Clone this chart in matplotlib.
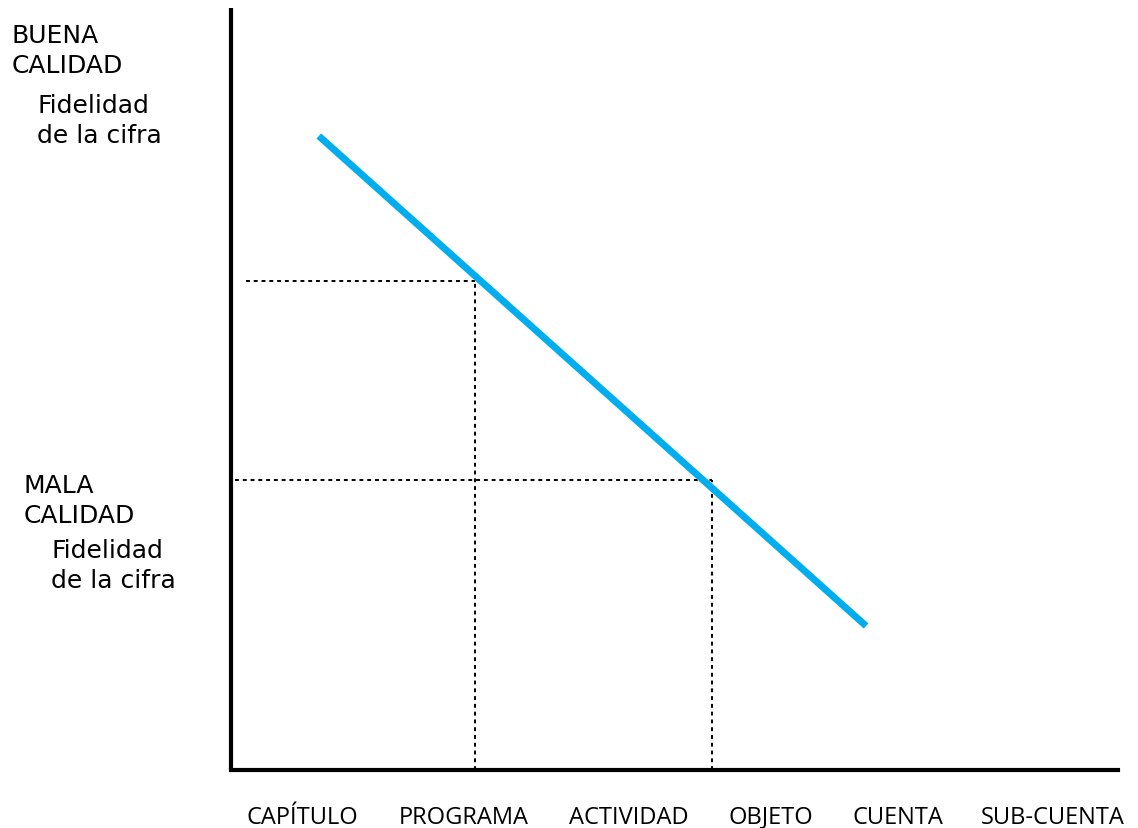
import numpy as np
import matplotlib.pyplot as plt

# positions on a 0-100 scale (x = nivel de desagregación, y = calidad)
categorias = ['CAPÍTULO', 'PROGRAMA', 'ACTIVIDAD', 'OBJETO', 'CUENTA', 'SUB-CUENTA']
cat_x = [8.1, 26.2, 44.8, 60.9, 75.2, 92.6]
linea_x = [9.9, 71.6]
linea_y = [83.2, 18.9]
# dotted reference lines: (x start, x end, y)
ref_x0 = [1.7, 0.45]
ref_x1 = [27.5, 54.2]
ref_y = [64.2, 38.1]

fig = plt.figure(figsize=(11.38, 8.29), dpi=100)
ax = fig.add_axes([231 / 1138, 58 / 829, 887 / 1138, 762 / 829])
ax.set_xlim(0, 100)
ax.set_ylim(0, 100)

ax.plot(linea_x, linea_y, color='#00aeef', lw=5, solid_capstyle='butt', zorder=3)
for x0, x1, y in zip(ref_x0, ref_x1, ref_y):
    ax.plot([x0, x1], [y, y], color='black', lw=1.4, ls=(0, (2, 2)), zorder=2)
    ax.plot([x1, x1], [0, y], color='black', lw=1.4, ls=(0, (2, 2)), zorder=2)

for s in ['top', 'right']:
    ax.spines[s].set_visible(False)
for s in ['left', 'bottom']:
    ax.spines[s].set_linewidth(3)
ax.spines['left'].set_capstyle('butt')
ax.set_yticks([])
ax.set_xticks(cat_x)
ax.set_xticklabels(categorias, fontsize=17, family='Open Sans')
ax.tick_params(axis='x', length=0, pad=25)

fig.text(12 / 1138, 1 - 51 / 829, 'BUENA\nCALIDAD', fontsize=18, va='center', linespacing=1.3)
fig.text(37 / 1138, 1 - 121 / 829, 'Fidelidad\nde la cifra', fontsize=18, va='center', linespacing=1.35)
fig.text(24 / 1138, 1 - 501 / 829, 'MALA\nCALIDAD', fontsize=18, va='center', linespacing=1.3)
fig.text(51 / 1138, 1 - 566 / 829, 'Fidelidad\nde la cifra', fontsize=18, va='center', linespacing=1.35)

fig.savefig('out.png', dpi=100)
